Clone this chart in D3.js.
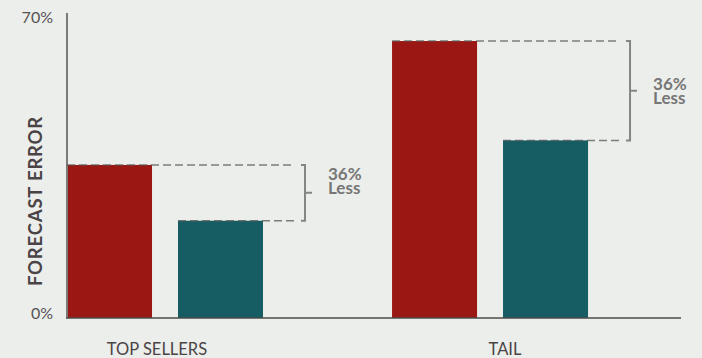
<!DOCTYPE html>
<html>
<head>
<meta charset="utf-8">
<script src="https://cdn.jsdelivr.net/npm/d3@7"></script>
<style>
  html, body { margin: 0; padding: 0; background: #eceeeb; }
  svg { display: block; font-family: Lato, "Open Sans", sans-serif; }
</style>
</head>
<body>
<svg id="chart" width="702" height="358"></svg>
<script>
// Forecast error by product segment, before and after
const categories = ["TOP SELLERS", "TAIL"];
const seriesNames = ["Baseline", "Improved"];
const baselineError = [36.2, 65.5];
const improvedError = [23.0, 42.0];
const reductionLabels = ["36%", "36%"];
const yTickValues = [0, 70];
const yTickLabels = ["0%", "70%"];

const colors = ["#9b1713", "#155d63"];
const svg = d3.select("#chart");

const x0 = d3.scaleBand()
  .domain(categories)
  .range([67, 681])
  .paddingInner(0.397)
  .paddingOuter(0.143)
  .align(0);

const x1 = d3.scaleBand()
  .domain(seriesNames)
  .range([0, x0.bandwidth()])
  .paddingInner(0.234);

const y = d3.scaleLinear().domain([0, 70]).range([318, 22]);

const rows = categories.map((c, i) => ({
  cat: c,
  vals: [baselineError[i], improvedError[i]],
  note: reductionLabels[i]
}));

// bars
const g = svg.append("g");
rows.forEach(r => {
  g.selectAll(null)
    .data(r.vals)
    .join("rect")
    .attr("x", (d, j) => x0(r.cat) + x1(seriesNames[j]))
    .attr("y", d => y(d))
    .attr("width", x1.bandwidth())
    .attr("height", d => y(0) - y(d))
    .attr("fill", (d, j) => colors[j]);
});

// axes
svg.append("line")
  .attr("x1", 67).attr("x2", 67)
  .attr("y1", y(0)).attr("y2", y(70) - 9)
  .attr("stroke", "#7a7b79").attr("stroke-width", 2);

svg.append("line")
  .attr("x1", 66).attr("x2", 681)
  .attr("y1", y(0)).attr("y2", y(0))
  .attr("stroke", "#4d4d4b").attr("stroke-width", 1.5);

svg.selectAll(".ytick")
  .data(yTickValues)
  .join("text")
  .attr("class", "ytick")
  .attr("x", 53)
  .attr("y", d => y(d) + 1)
  .attr("text-anchor", "end")
  .attr("font-size", 16)
  .attr("fill", "#575253")
  .text((d, i) => yTickLabels[i]);

svg.append("text")
  .attr("transform", "translate(42,201) rotate(-90)")
  .attr("text-anchor", "middle")
  .attr("font-size", 18.5)
  .attr("font-weight", 700)
  .attr("letter-spacing", 0.8)
  .attr("fill", "#4a4446")
  .text("FORECAST ERROR");

// category labels
const labelShift = [-8, 15];
svg.selectAll(".cat")
  .data(categories)
  .join("text")
  .attr("class", "cat")
  .attr("x", (d, i) => x0(d) + x0.bandwidth() / 2 + labelShift[i])
  .attr("y", 355)
  .attr("text-anchor", "middle")
  .attr("font-size", 16.5)
  .attr("fill", "#4a4446")
  .text(d => d);

// reduction brackets
const noteShift = [-13, -1];
rows.forEach((r, i) => {
  const left = x0(r.cat);
  const bx = left + x0.bandwidth() + 42;
  const yTop = y(r.vals[0]);
  const yBot = y(r.vals[1]);
  const mid = (yTop + yBot) / 2;

  r.vals.forEach((v, j) => {
    svg.append("line")
      .attr("x1", left + x1(seriesNames[j]))
      .attr("x2", bx - 10)
      .attr("y1", y(v)).attr("y2", y(v))
      .attr("stroke", "#555").attr("stroke-opacity", 0.75)
      .attr("stroke-width", 1.5)
      .attr("stroke-dasharray", "8,4");
  });

  svg.append("path")
    .attr("d", `M${bx - 4},${yTop} H${bx} V${yBot} H${bx - 4} M${bx},${mid} H${bx + 7}`)
    .attr("fill", "none")
    .attr("stroke", "#858684")
    .attr("stroke-width", 2);

  // two short lines of annotation text, set tight like the caption style
  const lines = [r.note, "Less"];
  svg.selectAll(null)
    .data(lines)
    .join("text")
    .attr("x", bx + 23)
    .attr("y", (d, k) => mid + noteShift[i] + k * 14.5)
    .attr("font-size", 17)
    .attr("font-weight", 700)
    .attr("fill", "#777777")
    .text(d => d);
});
</script>
</body>
</html>
